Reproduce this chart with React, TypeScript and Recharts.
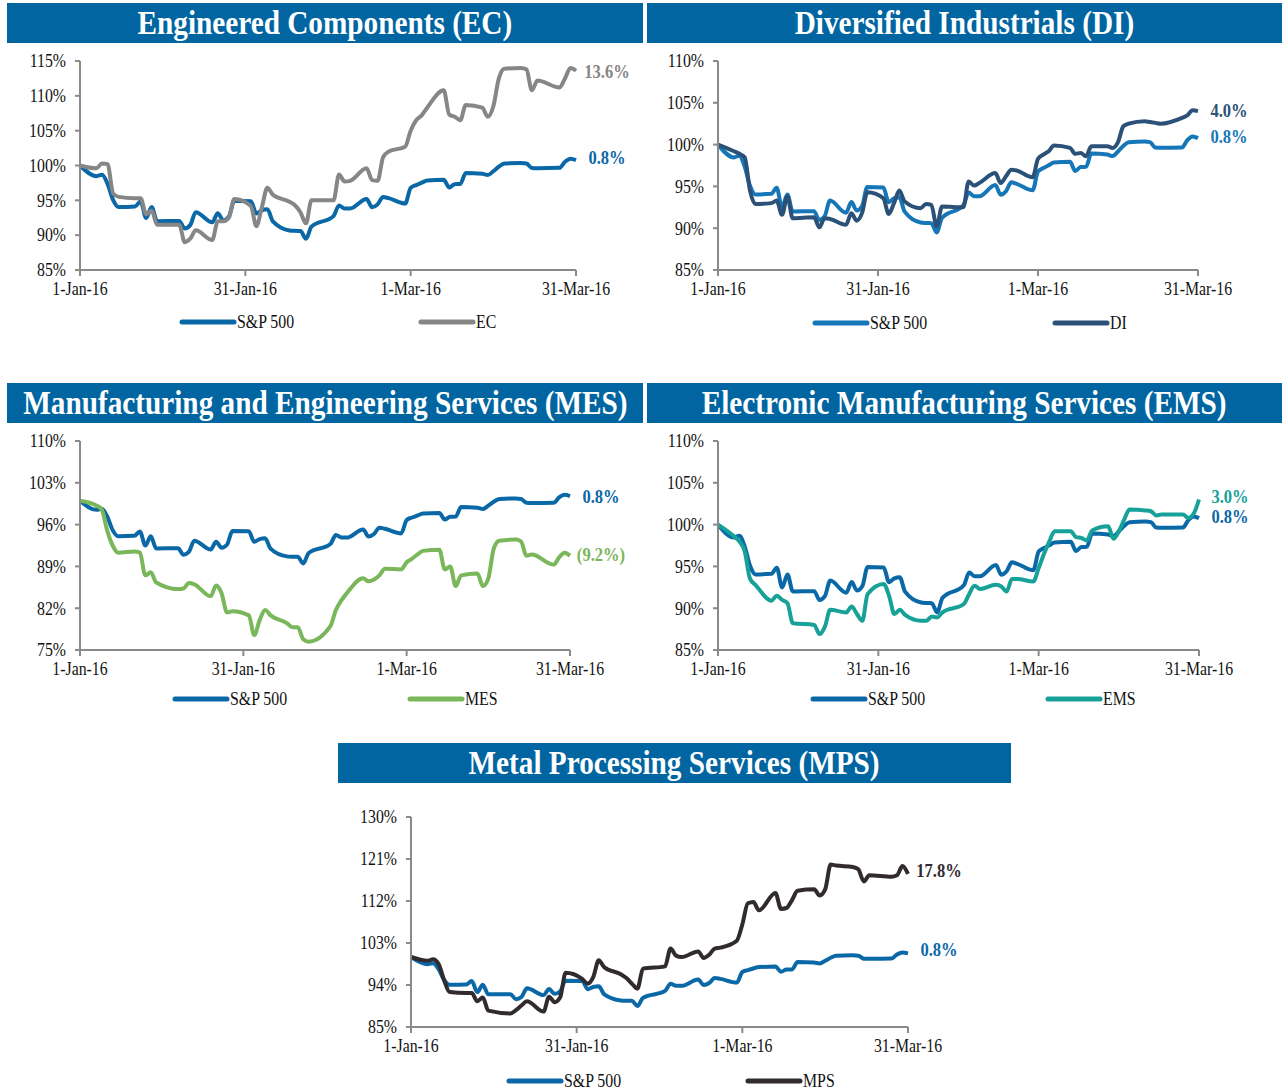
import React from "react";
import { LineChart, Line, XAxis, YAxis, Legend } from "recharts";

// trading days, counted from 1-Jan-16 (day 0 holds the 31-Dec-15 base)
const DAYS = [
  0, 3, 4, 5, 6, 7, 10, 11, 12, 13, 14, 18, 19, 20, 21, 24, 25, 26, 27, 28,
  31, 32, 33, 34, 35, 38, 39, 40, 41, 42, 46, 47, 48, 49, 52, 53, 54, 55, 56, 59,
  60, 61, 62, 63, 66, 67, 68, 69, 70, 73, 74, 75, 76, 77, 80, 81, 82, 83, 87, 88, 89, 90,
];

const SP500 = [
  100, 98.47, 98.67, 97.37, 95.07, 94.04, 94.12, 94.85, 92.48, 94.03, 92.0, 92.04, 90.97, 91.44, 93.3, 91.84, 93.13, 92.12, 92.63, 94.93,
  94.88, 93.11, 93.57, 93.71, 91.98, 90.68, 90.62, 90.6, 89.49, 91.23, 92.74, 94.27, 93.83, 93.83, 95.18, 94.0, 94.42, 95.49, 95.31, 94.53,
  96.79, 97.19, 97.53, 97.85, 97.94, 96.84, 97.32, 97.34, 98.94, 98.81, 98.63, 99.18, 99.84, 100.28, 100.37, 100.29, 99.65, 99.61, 99.66, 100.54, 100.98, 100.77,
];

const EC = [
  100, 99.6, 100.3, 100.2, 96.0, 95.5, 95.3, 95.3, 93.0, 93.5, 91.5, 91.5, 89.0, 89.5, 90.7, 89.3, 92.0, 92.0, 92.5, 95.2,
  94.2, 91.3, 94.0, 96.8, 95.8, 94.8, 94.3, 93.3, 91.7, 95.0, 95.0, 98.7, 97.7, 97.8, 99.6, 97.9, 97.8, 101.2, 102.0, 102.7,
  105.0, 106.5, 107.2, 108.3, 110.8, 107.3, 107.0, 106.5, 108.7, 108.3, 107.0, 108.5, 112.5, 113.9, 114.0, 113.8, 110.8, 112.2, 111.2, 112.5, 114.0, 113.6,
];

const DI = [
  100, 99.2, 98.9, 98.5, 94.5, 92.9, 93.0, 93.3, 91.6, 93.8, 91.2, 91.3, 90.1, 91.2, 91.1, 90.4, 91.8, 90.9, 91.8, 94.3,
  93.6, 91.7, 93.0, 94.5, 93.2, 92.4, 92.9, 92.8, 90.2, 92.6, 92.5, 95.6, 95.1, 95.4, 96.6, 95.4, 96.2, 97.0, 96.9, 96.1,
  98.3, 98.8, 99.2, 99.9, 99.6, 98.9, 99.0, 98.6, 99.8, 99.8, 99.6, 100.3, 102.2, 102.5, 102.8, 102.7, 102.6, 102.5, 103.2, 103.5, 104.1, 104.0,
];

const MES = [
  100, 99.2, 98.5, 95.0, 92.5, 91.3, 91.5, 91.3, 87.5, 88.0, 86.3, 85.2, 85.3, 86.2, 86.0, 84.0, 85.8, 84.5, 81.3, 81.5,
  80.8, 77.5, 80.0, 81.7, 80.8, 79.5, 78.8, 78.8, 76.8, 76.4, 79.0, 81.7, 83.3, 84.5, 87.0, 86.5, 86.8, 87.5, 88.6, 88.5,
  89.7, 90.3, 91.0, 91.6, 91.8, 88.5, 89.0, 85.7, 87.5, 87.8, 85.7, 87.0, 92.0, 93.3, 93.5, 93.2, 90.8, 91.0, 89.3, 90.5, 91.3, 90.8,
];

const EMS = [
  100, 98.6, 98.0, 96.8, 93.5, 92.8, 90.9, 91.5, 91.0, 90.6, 88.2, 88.0, 86.9, 87.8, 89.8, 89.5, 90.2, 89.3, 88.5, 91.7,
  92.9, 91.5, 89.3, 89.8, 89.2, 88.5, 88.5, 89.0, 88.9, 89.5, 90.5, 91.7, 92.7, 92.3, 92.8, 92.6, 92.0, 93.5, 93.5, 93.2,
  94.8, 96.5, 98.0, 99.2, 99.2, 98.5, 98.4, 98.1, 99.3, 99.8, 98.3, 99.2, 100.6, 101.8, 101.7, 101.6, 101.1, 101.2, 101.2, 100.8, 101.3, 103.0,
];

const MPS = [
  100, 99.2, 99.5, 98.5, 95.0, 92.5, 92.3, 92.3, 90.5, 91.3, 88.5, 87.9, 88.6, 89.6, 90.5, 88.3, 91.5, 90.3, 91.3, 96.6,
  95.3, 94.3, 95.7, 99.3, 97.8, 96.3, 95.5, 94.3, 93.2, 97.5, 98.0, 101.8, 100.3, 100.0, 101.2, 99.8, 100.5, 101.8, 102.0, 103.5,
  107.0, 111.5, 111.8, 110.0, 113.7, 110.3, 110.5, 112.2, 114.2, 114.5, 113.2, 114.5, 119.8, 119.6, 119.3, 118.8, 116.2, 117.5, 117.2, 117.5, 119.5, 117.8,
];

const X_TICKS = [0, 30, 60, 90];
const X_LABELS = ["1-Jan-16", "31-Jan-16", "1-Mar-16", "31-Mar-16"];

const FONT = '"Liberation Serif", "Times New Roman", serif';
const SQ = 0.88;
const HEADER = "#0065a1";
const AXIS = "#8a8a8a";
const SP_COLOR = "#0b68a7";

const buildRows = (sector: number[]) =>
  DAYS.map((d, i) => ({ day: d, sp: SP500[i], sector: sector[i] }));

const XTick = (props: any) => {
  const { x, y, payload } = props;
  const i = X_TICKS.indexOf(payload.value);
  return (
    <g transform={`translate(${x},${y})`}>
      <text transform={`scale(${SQ},1)`} textAnchor="middle" dy="0.75em" fontSize={18} fill="#111" fontFamily={FONT}>
        {X_LABELS[i]}
      </text>
    </g>
  );
};

const YTick = (props: any) => {
  const { x, y, payload } = props;
  return (
    <g transform={`translate(${x},${y})`}>
      <text transform={`scale(${SQ},1)`} textAnchor="end" dy="0.35em" fontSize={18} fill="#111" fontFamily={FONT}>
        {`${payload.value}%`}
      </text>
    </g>
  );
};

const endLabel = (text: string, color: string, dy: number) => (props: any) => {
  const { x, y, index } = props;
  if (index !== DAYS.length - 1) return null;
  return (
    <g transform={`translate(${x + 31},${y + dy})`}>
      <text transform={`scale(0.92,1)`} textAnchor="middle" dominantBaseline="central" fontSize={18} fontWeight="bold" fill={color} fontFamily={FONT}>
        {text}
      </text>
    </g>
  );
};

interface PanelProps {
  title: string;
  left: number;
  top: number;
  width: number;
  height: number;
  plotLeft: number;
  plotTop: number;
  plotBottom: number;
  plotRight: number;
  legendH: number;
  legendY: number;
  legendX: [number, number];
  yTicks: number[];
  sector: number[];
  name: string;
  color: string;
  spLabel: string;
  spDy: number;
  secLabel: string;
  secDy: number;
  spColor?: string;
}

function Panel(p: PanelProps) {
  const rows = buildRows(p.sector);
  const headerH = 40;
  const chartTop = p.top + headerH;
  const xAxisH = 28;
  const mTop = p.plotTop - chartTop;
  const yW = p.plotLeft - p.left;
  const mRight = p.left + p.width - p.plotRight;
  const mBottom = p.height - (p.plotBottom - chartTop) - xAxisH - p.legendH;
  const spColor = p.spColor || SP_COLOR;
  const items = [
    { label: "S&P 500", color: spColor, x: p.legendX[0] },
    { label: p.name, color: p.color, x: p.legendX[1] },
  ];

  const renderLegend = () => (
    <div style={{ position: "relative", width: p.width, height: p.legendH }}>
      {items.map((it) => (
        <div key={it.label} style={{ position: "absolute", left: it.x, top: p.legendY - 12, height: 24, display: "flex", alignItems: "center" }}>
          <svg width={58} height={8}>
            <line x1={3} y1={4} x2={55} y2={4} stroke={it.color} strokeWidth={5} strokeLinecap="round" />
          </svg>
          <span style={{ fontFamily: FONT, fontSize: 18, color: "#111", display: "inline-block", transform: `scaleX(${SQ})`, transformOrigin: "left center", whiteSpace: "nowrap" }}>
            {it.label}
          </span>
        </div>
      ))}
    </div>
  );

  return (
    <>
      <div
        style={{
          position: "absolute",
          left: p.left,
          top: p.top,
          width: p.width,
          height: headerH,
          background: HEADER,
          color: "#fff",
          display: "flex",
          justifyContent: "center",
          alignItems: "center",
          overflow: "visible",
        }}
      >
        <span
          style={{
            flexShrink: 0,
            fontFamily: FONT,
            fontWeight: "bold",
            fontSize: 34,
            lineHeight: "40px",
            transform: "scaleX(0.86)",
            transformOrigin: "center center",
            whiteSpace: "nowrap",
          }}
        >
          {p.title}
        </span>
      </div>
      <div style={{ position: "absolute", left: p.left, top: chartTop }}>
        <LineChart width={p.width} height={p.height} data={rows} margin={{ top: mTop, right: mRight, left: 0, bottom: mBottom }}>
          <XAxis
            dataKey="day"
            type="number"
            domain={[0, 90]}
            ticks={X_TICKS}
            interval={0}
            height={xAxisH}
            tick={<XTick />}
            tickSize={6}
            tickMargin={5}
            axisLine={{ stroke: AXIS, strokeWidth: 2 }}
            tickLine={{ stroke: AXIS, strokeWidth: 2 }}
          />
          <YAxis
            type="number"
            width={yW}
            domain={[p.yTicks[0], p.yTicks[p.yTicks.length - 1]]}
            ticks={p.yTicks}
            interval={0}
            allowDataOverflow
            tick={<YTick />}
            tickSize={5}
            tickMargin={9}
            axisLine={{ stroke: AXIS, strokeWidth: 2 }}
            tickLine={{ stroke: AXIS, strokeWidth: 2 }}
          />
          <Legend
            verticalAlign="bottom"
            height={p.legendH}
            content={renderLegend}
            wrapperStyle={{ left: 0, width: p.width, height: p.legendH }}
          />
          <Line
            type="monotone"
            dataKey="sp"
            name="S&P 500"
            stroke={spColor}
            strokeWidth={4}
            dot={false}
            isAnimationActive={false}
            label={endLabel(p.spLabel, spColor, p.spDy)}
          />
          <Line
            type="monotone"
            dataKey="sector"
            name={p.name}
            stroke={p.color}
            strokeWidth={4}
            dot={false}
            isAnimationActive={false}
            label={endLabel(p.secLabel, p.color, p.secDy)}
          />
        </LineChart>
      </div>
    </>
  );
}

export default function App() {
  return (
    <div style={{ position: "absolute", left: 0, top: 0, width: 1282, height: 1092, background: "#fff", overflow: "hidden" }}>
      <Panel
        title="Engineered Components (EC)"
        left={7} top={3} width={636} height={300}
        plotLeft={80} plotTop={61} plotBottom={270} plotRight={576}
        legendH={40} legendY={24} legendX={[172, 411]}
        yTicks={[85, 90, 95, 100, 105, 110, 115]}
        sector={EC} name="EC" color="#868686"
        spLabel="0.8%" spDy={-2} secLabel="13.6%" secDy={2}
      />
      <Panel
        title="Diversified Industrials (DI)"
        left={647} top={3} width={635} height={300}
        plotLeft={718} plotTop={61} plotBottom={270} plotRight={1198}
        legendH={40} legendY={25} legendX={[165, 405]}
        yTicks={[85, 90, 95, 100, 105, 110]}
        sector={DI} name="DI" color="#2b5178" spColor="#1677b8"
        spLabel="0.8%" spDy={-1} secLabel="4.0%" secDy={0}
      />
      <Panel
        title="Manufacturing and Engineering Services (MES)"
        left={7} top={383} width={636} height={300}
        plotLeft={80} plotTop={441} plotBottom={650} plotRight={570}
        legendH={40} legendY={21} legendX={[165, 400]}
        yTicks={[75, 82, 89, 96, 103, 110]}
        sector={MES} name="MES" color="#7ab65a"
        spLabel="0.8%" spDy={1} secLabel="(9.2%)" secDy={0}
      />
      <Panel
        title="Electronic Manufacturing Services (EMS)"
        left={647} top={383} width={635} height={300}
        plotLeft={718} plotTop={441} plotBottom={650} plotRight={1199}
        legendH={40} legendY={21} legendX={[163, 398]}
        yTicks={[85, 90, 95, 100, 105, 110]}
        sector={EMS} name="EMS" color="#17a199"
        spLabel="0.8%" spDy={-1} secLabel="3.0%" secDy={-2}
      />
      <Panel
        title="Metal Processing Services (MPS)"
        left={338} top={743} width={673} height={309}
        plotLeft={411} plotTop={817} plotBottom={1027} plotRight={908}
        legendH={34} legendY={26} legendX={[168, 407]}
        yTicks={[85, 94, 103, 112, 121, 130]}
        sector={MPS} name="MPS" color="#312a2f"
        spLabel="0.8%" spDy={-3} secLabel="17.8%" secDy={-3}
      />
    </div>
  );
}
